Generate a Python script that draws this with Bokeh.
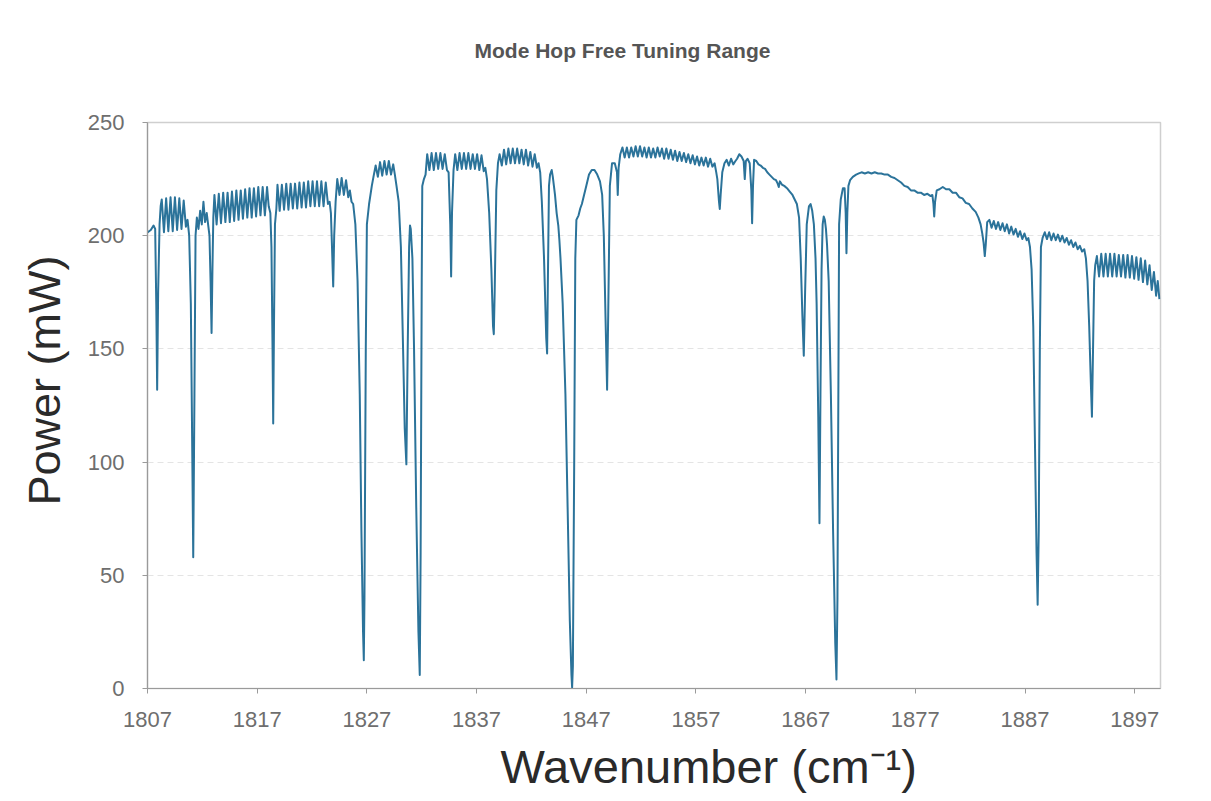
from bokeh.plotting import figure
from bokeh.models import FixedTicker, Range1d, Title
from bokeh.embed import file_html
from bokeh.resources import INLINE

# ---- data (wavenumber in cm-1, power in mW) ----
wavenumber = [
    1807.0, 1807.3, 1807.55, 1807.7, 1807.8, 1807.88, 1807.97, 1808.1, 1808.2,
    1808.3, 1808.5, 1808.7, 1808.9, 1809.1, 1809.3, 1809.5, 1809.7, 1809.9, 1810.1, 1810.3, 1810.5, 1810.65,
    1810.8, 1810.95, 1811.05, 1811.17, 1811.28, 1811.38,
    1811.5, 1811.65, 1811.8, 1811.95, 1812.1, 1812.25, 1812.4, 1812.55, 1812.65, 1812.75, 1812.84, 1812.92, 1813.0,
    1813.1, 1813.3, 1813.5, 1813.7, 1813.9, 1814.1, 1814.3, 1814.5, 1814.7, 1814.9, 1815.1, 1815.3, 1815.5, 1815.7, 1815.9,
    1816.1, 1816.3, 1816.5, 1816.7, 1816.9, 1817.1, 1817.3, 1817.5, 1817.7, 1817.9, 1818.05, 1818.2,
    1818.3, 1818.4, 1818.46, 1818.53, 1818.62, 1818.75,
    1818.85, 1819.05, 1819.25, 1819.45, 1819.65, 1819.85, 1820.05, 1820.25, 1820.45, 1820.65, 1820.85, 1821.05,
    1821.25, 1821.45, 1821.65, 1821.85, 1822.05, 1822.25, 1822.45, 1822.65, 1822.85, 1823.05, 1823.25, 1823.45, 1823.6,
    1823.72, 1823.82, 1823.93, 1824.02, 1824.15, 1824.3, 1824.5, 1824.7, 1824.9, 1825.1, 1825.3, 1825.45, 1825.6, 1825.75,
    1825.95, 1826.15, 1826.35, 1826.5, 1826.65, 1826.72, 1826.78, 1826.9, 1827.0, 1827.2, 1827.45, 1827.6,
    1827.8, 1828.0, 1828.2, 1828.4, 1828.6, 1828.8, 1829.0, 1829.2, 1829.4, 1829.55,
    1829.7, 1829.9, 1830.1, 1830.3, 1830.45, 1830.6, 1830.72, 1830.85, 1830.93, 1831.0, 1831.15, 1831.3, 1831.5,
    1831.7, 1831.82, 1831.9, 1832.0, 1832.05, 1832.2, 1832.35,
    1832.5, 1832.7, 1832.9, 1833.1, 1833.3, 1833.5, 1833.7, 1833.9, 1834.1, 1834.3, 1834.45, 1834.6, 1834.68, 1834.76, 1834.9,
    1835.05, 1835.25, 1835.45, 1835.65, 1835.85, 1836.05, 1836.25, 1836.45, 1836.65, 1836.85, 1837.05, 1837.25, 1837.45, 1837.65, 1837.8,
    1837.95, 1838.15, 1838.35, 1838.5, 1838.57, 1838.65, 1838.8, 1838.95,
    1839.1, 1839.3, 1839.5, 1839.7, 1839.9, 1840.1, 1840.3, 1840.5, 1840.7, 1840.9, 1841.1, 1841.3, 1841.5, 1841.7,
    1841.9, 1842.1, 1842.3, 1842.5, 1842.65, 1842.8,
    1842.95, 1843.15, 1843.35, 1843.43, 1843.5, 1843.6, 1843.7, 1843.85, 1843.95, 1844.05, 1844.15, 1844.3,
    1844.45, 1844.55, 1844.65, 1844.85, 1845.1, 1845.3, 1845.5, 1845.65, 1845.71, 1845.78, 1845.9, 1846.0,
    1846.1, 1846.3, 1846.45, 1846.6, 1846.8, 1847.0, 1847.25, 1847.5, 1847.75, 1848.0, 1848.25, 1848.45,
    1848.6, 1848.75, 1848.9, 1849.0, 1849.15, 1849.35, 1849.6, 1849.8, 1849.87, 1849.95,
    1850.1, 1850.3, 1850.5, 1850.7, 1850.9, 1851.1, 1851.3, 1851.5, 1851.7, 1851.9, 1852.1, 1852.3, 1852.5, 1852.7, 1852.9,
    1853.1, 1853.3, 1853.5, 1853.7, 1853.9, 1854.1, 1854.3, 1854.5, 1854.7, 1854.9, 1855.1, 1855.3, 1855.5, 1855.7, 1855.9,
    1856.1, 1856.3, 1856.5, 1856.7, 1856.9, 1857.1, 1857.3, 1857.5, 1857.7, 1857.9, 1858.1, 1858.3, 1858.5, 1858.7, 1858.85,
    1858.95, 1859.1, 1859.17, 1859.25, 1859.4, 1859.6, 1859.8, 1860.0, 1860.2, 1860.4, 1860.6, 1860.75,
    1860.95, 1861.15, 1861.35, 1861.45, 1861.55, 1861.7, 1861.9, 1862.05, 1862.12, 1862.2, 1862.3,
    1862.5, 1862.7, 1862.9, 1863.1, 1863.3, 1863.5, 1863.7, 1863.9, 1864.1, 1864.3, 1864.45,
    1864.55, 1864.65, 1864.85, 1865.05, 1865.3, 1865.55, 1865.8, 1866.0, 1866.2, 1866.4,
    1866.55, 1866.7, 1866.83, 1866.95, 1867.1, 1867.3, 1867.45, 1867.6, 1867.75, 1867.9,
    1868.0, 1868.15, 1868.26, 1868.35, 1868.45, 1868.55, 1868.65, 1868.75, 1868.85, 1868.95,
    1869.1, 1869.3, 1869.5, 1869.7, 1869.81, 1869.9, 1870.0, 1870.05, 1870.2, 1870.4, 1870.55, 1870.65, 1870.72, 1870.8, 1870.9,
    1871.05, 1871.3, 1871.6, 1871.85, 1872.1, 1872.4, 1872.7, 1873.0, 1873.3, 1873.6, 1873.9, 1874.2, 1874.5, 1874.8,
    1875.1, 1875.4, 1875.7, 1876.0,
    1876.3, 1876.6, 1876.9, 1877.2, 1877.5, 1877.8, 1878.1, 1878.4, 1878.55, 1878.65, 1878.72, 1878.8,
    1878.95, 1879.2, 1879.5, 1879.8, 1880.1, 1880.4, 1880.7, 1881.0, 1881.3, 1881.6, 1881.9, 1882.2,
    1882.5, 1882.75, 1882.95, 1883.1, 1883.22, 1883.33, 1883.42, 1883.55, 1883.75,
    1883.95, 1884.15, 1884.35, 1884.55, 1884.75, 1884.95, 1885.15, 1885.35, 1885.55, 1885.75, 1885.95, 1886.15,
    1886.35, 1886.55, 1886.75, 1886.95, 1887.15, 1887.3,
    1887.45, 1887.6, 1887.75, 1887.9, 1888.05, 1888.15, 1888.25, 1888.35, 1888.45,
    1888.6, 1888.8, 1889.0, 1889.2, 1889.4, 1889.6, 1889.8, 1890.0, 1890.2, 1890.4,
    1890.6, 1890.8, 1891.0, 1891.2, 1891.4, 1891.6, 1891.8, 1892.0, 1892.2, 1892.4,
    1892.55, 1892.7, 1892.85, 1893.0, 1893.1, 1893.2, 1893.3, 1893.4,
    1893.55, 1893.75, 1893.95, 1894.15, 1894.35, 1894.55, 1894.75, 1894.95,
    1895.15, 1895.35, 1895.55, 1895.75, 1895.95, 1896.15, 1896.35, 1896.55,
    1896.75, 1896.95, 1897.15, 1897.35, 1897.55, 1897.75, 1897.95, 1898.15, 1898.35, 1898.55, 1898.75, 1898.95, 1899.1, 1899.25,
]
power = [
    201.5, 202.5, 204.5, 203, 170, 132, 175, 205, 213,
    216, 201.5, 216.5, 202, 217, 202, 217, 202.5, 216.5, 203, 215.5, 204, 207,
    200, 170, 120, 58, 130, 200,
    208, 203, 211, 205, 215, 206, 210, 204, 200, 180, 157, 185, 208,
    218, 205, 218.5, 205.5, 219, 206, 219, 206, 219.5, 206.5, 220, 207, 220, 207.5, 220.5,
    208, 221, 208, 221, 208.5, 221.5, 209, 221.5, 209, 221.5, 213, 210,
    195, 150, 117, 160, 205, 212,
    222.5, 211, 222.5, 211.5, 223, 211.5, 223, 212, 223, 212, 223.5, 212.5,
    223.5, 212.5, 224, 213, 224, 213, 224, 213, 224, 213, 223.5, 214, 215,
    210, 195, 177.6, 200, 215, 225, 218, 225.5, 218, 224.5, 217, 220, 215, 214,
    205, 180, 130, 70, 25, 12.5, 40, 150, 205, 214, 222, 226,
    231, 226, 232.5, 226.5, 233, 227, 233, 227, 231.5, 227,
    222, 215, 195, 150, 115, 99, 150, 195, 204.5, 203, 190, 150, 80,
    25, 6, 60, 180, 222, 225, 227,
    236, 229, 236.5, 229, 236.5, 229.5, 236.5, 229.5, 236, 229, 228, 205, 182, 210, 229,
    236, 229, 236.5, 229.5, 236.5, 229.5, 236.5, 229.5, 236, 229.5, 236, 229, 235.5, 228.5, 230,
    225, 210, 185, 160, 156.5, 175, 220, 232,
    236, 231, 238, 231.5, 238.5, 232, 238.5, 232, 238.5, 232, 238, 231.5, 238, 231,
    237, 230.5, 236, 230, 232, 228,
    215, 190, 155, 148, 180, 222, 227, 229, 226, 222, 218, 210,
    204.5, 198, 190, 170, 130, 80, 30, 6, 0.5, 10, 100, 190,
    207, 209, 212, 214, 218, 222, 227, 229, 229, 227, 224, 218,
    200, 165, 132, 165, 222, 232, 232, 228, 218, 230,
    236, 239, 234.5, 239, 234.5, 239, 235, 239.5, 235, 239.5, 235, 239, 234.5, 239, 234.5,
    238.5, 234.5, 239, 235, 238.5, 234, 238.5, 234, 238, 233.5, 237.5, 233, 237, 233, 236.5,
    232.5, 236, 232, 235.5, 231.5, 235, 231, 234.5, 231, 234.5, 230.5, 234, 230.5, 232, 228,
    225, 215, 211.8, 218, 228, 232, 233.5, 231, 234, 231.5, 233, 234,
    236, 235, 233, 225, 233, 234, 232, 220, 205.5, 222, 233.5,
    233, 231.5, 231, 230, 229.5, 228, 227, 226, 225, 224.5, 223,
    221.5, 224, 222.5, 222, 221, 219.5, 218, 216, 214, 208,
    190, 165, 147, 175, 205, 213, 214, 211, 205, 190,
    170, 120, 73, 130, 185, 205, 208.5, 207, 203, 196,
    180, 130, 70, 20, 4, 40, 150, 205, 216, 221, 221, 210, 192.3, 210, 222,
    224.5, 226, 227, 227.5, 228, 227.5, 228, 227.5, 228, 227.5, 227.5, 227, 227, 226,
    225.5, 224.5, 223.5, 222,
    221.5, 220, 220, 219, 219, 218, 218.5, 217.5, 218, 214, 208.5, 215,
    220, 220.5, 221.5, 220.5, 220.5, 219, 219, 217, 216.5, 214.5, 214, 212,
    210.5, 208, 205, 201, 197, 191, 196, 206, 207,
    203.5, 206.5, 203, 206, 202.5, 205.5, 202, 205, 201, 204, 200.5, 203,
    199.5, 202, 198.5, 201, 198, 199,
    195, 185, 160, 110, 60, 37, 70, 150, 195,
    199, 201.5, 198.5, 201.5, 198, 201, 198, 200.5, 197.5, 200,
    197, 199, 196, 198, 195, 197, 194, 195.5, 193, 194,
    190, 180, 160, 135, 120, 150, 180, 187,
    191, 182, 192, 182, 192, 182, 192, 182,
    192, 182, 191.5, 182, 191.5, 181.5, 191.5, 181.5,
    191, 181, 190.5, 180.5, 190, 179.5, 189, 178.5, 187, 176, 184, 173.5, 180, 172,
]
assert len(wavenumber) == len(power)

x_ticks = [1807, 1817, 1827, 1837, 1847, 1857, 1867, 1877, 1887, 1897]
y_ticks = [0, 50, 100, 150, 200, 250]
title_text = "Mode Hop Free Tuning Range"
x_label_text = "Wavenumber (cm\u207b\u00b9)"
y_label_text = "Power (mW)"

FONT = "Liberation Sans"

p = figure(width=1211, height=801, output_backend="svg", toolbar_location=None,
           x_range=Range1d(1807, 1899.35), y_range=Range1d(0, 250),
           min_border_left=147, min_border_right=51, min_border_top=122, min_border_bottom=113,
           background_fill_color="white", border_fill_color="white")

p.line(wavenumber, power, line_color="#2b739a", line_width=2, line_join="round")

p.outline_line_color = "#cfcfcf"
p.outline_line_width = 1.5

p.xgrid.visible = False
p.ygrid.ticker = FixedTicker(ticks=y_ticks)
p.ygrid.grid_line_color = "#e4e4e4"
p.ygrid.grid_line_dash = "6 4"

for ax in (p.xaxis[0], p.yaxis[0]):
    ax.axis_line_color = "#9a9a9a"
    ax.axis_line_width = 1.2
    ax.major_tick_line_color = "#9a9a9a"
    ax.major_tick_out = 5
    ax.major_tick_in = 0
    ax.minor_tick_out = 0
    ax.minor_tick_in = 0
    ax.major_label_text_font = FONT
    ax.major_label_text_font_size = "22px"
    ax.major_label_text_color = "#6e6e6e"

p.xaxis[0].ticker = FixedTicker(ticks=x_ticks)
p.yaxis[0].ticker = FixedTicker(ticks=y_ticks)
p.xaxis[0].major_label_standoff = 18
p.yaxis[0].major_label_standoff = 18

# visible chart title (outermost in the top panel) with an inner spacer below it
p.title.text = title_text
p.title.align = "left"
p.title.offset = 327
p.title.standoff = 0
p.title.text_font = FONT
p.title.text_font_size = "21px"
p.title.text_font_style = "bold"
p.title.text_color = "#555555"
p.add_layout(Title(text=" ", text_font_size="1px", standoff=58), "above")

p.add_layout(Title(text=y_label_text, align="left", offset=183, standoff=30,
                   text_font=FONT, text_font_size="45px", text_font_style="normal",
                   text_color="#2a2a2a"), "left")
p.add_layout(Title(text=x_label_text, align="left", offset=353, standoff=16,
                   text_font=FONT, text_font_size="47px", text_font_style="normal",
                   text_color="#2a2a2a"), "below")

open("out.html", "w").write(file_html(p, INLINE))
